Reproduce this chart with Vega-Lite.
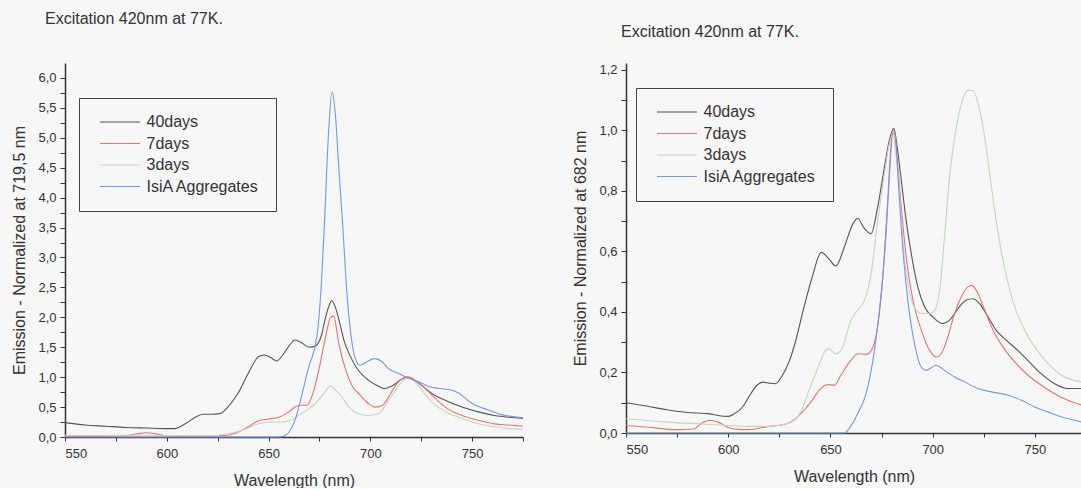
{
  "$schema": "https://vega.github.io/schema/vega-lite/v6.json",
  "background": "#f7f7f7",
  "padding": {"left": 11, "top": 11, "right": 0, "bottom": 0},
  "spacing": 46,
  "config": {
    "font": "Liberation Sans",
    "view": {"stroke": null},
    "axis": {"domainColor": "#333", "domainWidth": 1.5, "tickColor": "#333", "tickSize": 5, "labelColor": "#333", "labelFontSize": 13, "labelPadding": 4, "titleColor": "#333", "titleFontSize": 16, "titleFontWeight": "normal", "grid": false},
    "title": {"fontSize": 16, "fontWeight": "normal", "color": "#333", "anchor": "start", "frame": "group"},
    "legend": {"title": null, "orient": "none", "fillColor": "#f7f7f7", "strokeColor": "#444", "labelFontSize": 16, "labelColor": "#333", "symbolType": "M-6.667,0H6.667", "symbolSize": 36, "symbolStrokeWidth": 1.2, "symbolOffset": 17, "padding": 16, "rowPadding": 5.5, "labelOffset": 18.5}
  },
  "resolve": {"scale": {"color": "independent"}, "legend": {"color": "independent"}},
  "datasets": {
    "left": [
      {"s":"40days","nm":550,"v":0.24},{"s":"40days","nm":560,"v":0.2},{"s":"40days","nm":570,"v":0.18},{"s":"40days","nm":580,"v":0.16},{"s":"40days","nm":590,"v":0.15},{"s":"40days","nm":600,"v":0.14},{"s":"40days","nm":604,"v":0.14},{"s":"40days","nm":607,"v":0.18},{"s":"40days","nm":610,"v":0.24},{"s":"40days","nm":614,"v":0.33},{"s":"40days","nm":618,"v":0.38},{"s":"40days","nm":622,"v":0.38},{"s":"40days","nm":626,"v":0.39},{"s":"40days","nm":630,"v":0.5},{"s":"40days","nm":635,"v":0.73},{"s":"40days","nm":640,"v":1.06},{"s":"40days","nm":645,"v":1.34},{"s":"40days","nm":648,"v":1.37},{"s":"40days","nm":651,"v":1.33},{"s":"40days","nm":654,"v":1.27},{"s":"40days","nm":657,"v":1.37},{"s":"40days","nm":660,"v":1.52},{"s":"40days","nm":663,"v":1.62},{"s":"40days","nm":666,"v":1.58},{"s":"40days","nm":670,"v":1.5},{"s":"40days","nm":673,"v":1.52},{"s":"40days","nm":676,"v":1.7},{"s":"40days","nm":678,"v":2.0},{"s":"40days","nm":680,"v":2.22},{"s":"40days","nm":681,"v":2.28},{"s":"40days","nm":683,"v":2.15},{"s":"40days","nm":685,"v":1.9},{"s":"40days","nm":687,"v":1.62},{"s":"40days","nm":690,"v":1.36},{"s":"40days","nm":694,"v":1.12},{"s":"40days","nm":699,"v":0.95},{"s":"40days","nm":704,"v":0.85},{"s":"40days","nm":707,"v":0.81},{"s":"40days","nm":711,"v":0.86},{"s":"40days","nm":715,"v":0.96},{"s":"40days","nm":718,"v":1.0},{"s":"40days","nm":721,"v":0.96},{"s":"40days","nm":725,"v":0.87},{"s":"40days","nm":730,"v":0.73},{"s":"40days","nm":737,"v":0.61},{"s":"40days","nm":745,"v":0.5},{"s":"40days","nm":753,"v":0.42},{"s":"40days","nm":761,"v":0.36},{"s":"40days","nm":768,"v":0.33},{"s":"40days","nm":775,"v":0.31},
      {"s":"7days","nm":550,"v":0.01},{"s":"7days","nm":570,"v":0.01},{"s":"7days","nm":580,"v":0.02},{"s":"7days","nm":585,"v":0.05},{"s":"7days","nm":590,"v":0.07},{"s":"7days","nm":595,"v":0.05},{"s":"7days","nm":600,"v":0.02},{"s":"7days","nm":610,"v":0.01},{"s":"7days","nm":620,"v":0.01},{"s":"7days","nm":625,"v":0.02},{"s":"7days","nm":630,"v":0.03},{"s":"7days","nm":635,"v":0.08},{"s":"7days","nm":640,"v":0.17},{"s":"7days","nm":645,"v":0.27},{"s":"7days","nm":650,"v":0.3},{"s":"7days","nm":655,"v":0.33},{"s":"7days","nm":660,"v":0.42},{"s":"7days","nm":663,"v":0.5},{"s":"7days","nm":666,"v":0.53},{"s":"7days","nm":669,"v":0.53},{"s":"7days","nm":672,"v":0.75},{"s":"7days","nm":675,"v":1.17},{"s":"7days","nm":678,"v":1.67},{"s":"7days","nm":680.5,"v":2.0},{"s":"7days","nm":682,"v":2.02},{"s":"7days","nm":684.5,"v":1.56},{"s":"7days","nm":688,"v":1.11},{"s":"7days","nm":691,"v":0.86},{"s":"7days","nm":695,"v":0.7},{"s":"7days","nm":699,"v":0.56},{"s":"7days","nm":702.5,"v":0.5},{"s":"7days","nm":706,"v":0.53},{"s":"7days","nm":709,"v":0.67},{"s":"7days","nm":712,"v":0.84},{"s":"7days","nm":716,"v":0.98},{"s":"7days","nm":719,"v":1.0},{"s":"7days","nm":722,"v":0.95},{"s":"7days","nm":727,"v":0.81},{"s":"7days","nm":732,"v":0.64},{"s":"7days","nm":738,"v":0.47},{"s":"7days","nm":745,"v":0.36},{"s":"7days","nm":753,"v":0.28},{"s":"7days","nm":761,"v":0.22},{"s":"7days","nm":768,"v":0.2},{"s":"7days","nm":775,"v":0.18},
      {"s":"3days","nm":550,"v":0.03},{"s":"3days","nm":570,"v":0.03},{"s":"3days","nm":590,"v":0.03},{"s":"3days","nm":610,"v":0.02},{"s":"3days","nm":620,"v":0.02},{"s":"3days","nm":630,"v":0.05},{"s":"3days","nm":635,"v":0.09},{"s":"3days","nm":640,"v":0.15},{"s":"3days","nm":645,"v":0.22},{"s":"3days","nm":650,"v":0.25},{"s":"3days","nm":655,"v":0.25},{"s":"3days","nm":660,"v":0.27},{"s":"3days","nm":666,"v":0.39},{"s":"3days","nm":673,"v":0.56},{"s":"3days","nm":677,"v":0.72},{"s":"3days","nm":680.5,"v":0.85},{"s":"3days","nm":683,"v":0.78},{"s":"3days","nm":686,"v":0.67},{"s":"3days","nm":689.5,"v":0.5},{"s":"3days","nm":694,"v":0.39},{"s":"3days","nm":699,"v":0.36},{"s":"3days","nm":704,"v":0.39},{"s":"3days","nm":709,"v":0.61},{"s":"3days","nm":714,"v":0.86},{"s":"3days","nm":718,"v":0.98},{"s":"3days","nm":721,"v":0.95},{"s":"3days","nm":725.5,"v":0.78},{"s":"3days","nm":730,"v":0.59},{"s":"3days","nm":737,"v":0.42},{"s":"3days","nm":745,"v":0.31},{"s":"3days","nm":753,"v":0.22},{"s":"3days","nm":761,"v":0.17},{"s":"3days","nm":768,"v":0.14},{"s":"3days","nm":775,"v":0.13},
      {"s":"IsiA Aggregates","nm":550,"v":0.0},{"s":"IsiA Aggregates","nm":600,"v":0.0},{"s":"IsiA Aggregates","nm":640,"v":0.0},{"s":"IsiA Aggregates","nm":655,"v":0.0},{"s":"IsiA Aggregates","nm":658,"v":0.02},{"s":"IsiA Aggregates","nm":660,"v":0.08},{"s":"IsiA Aggregates","nm":663,"v":0.28},{"s":"IsiA Aggregates","nm":666.5,"v":0.72},{"s":"IsiA Aggregates","nm":670,"v":1.2},{"s":"IsiA Aggregates","nm":672,"v":1.4},{"s":"IsiA Aggregates","nm":674.5,"v":1.9},{"s":"IsiA Aggregates","nm":676,"v":2.6},{"s":"IsiA Aggregates","nm":677.5,"v":3.6},{"s":"IsiA Aggregates","nm":679.5,"v":5.1},{"s":"IsiA Aggregates","nm":681.2,"v":5.77},{"s":"IsiA Aggregates","nm":682.8,"v":5.4},{"s":"IsiA Aggregates","nm":684.5,"v":4.5},{"s":"IsiA Aggregates","nm":686.5,"v":3.5},{"s":"IsiA Aggregates","nm":688.5,"v":2.4},{"s":"IsiA Aggregates","nm":690.5,"v":1.7},{"s":"IsiA Aggregates","nm":692.5,"v":1.32},{"s":"IsiA Aggregates","nm":695,"v":1.2},{"s":"IsiA Aggregates","nm":698,"v":1.25},{"s":"IsiA Aggregates","nm":702,"v":1.31},{"s":"IsiA Aggregates","nm":705,"v":1.28},{"s":"IsiA Aggregates","nm":709,"v":1.14},{"s":"IsiA Aggregates","nm":714,"v":1.06},{"s":"IsiA Aggregates","nm":719,"v":0.98},{"s":"IsiA Aggregates","nm":724,"v":0.92},{"s":"IsiA Aggregates","nm":729,"v":0.84},{"s":"IsiA Aggregates","nm":734,"v":0.81},{"s":"IsiA Aggregates","nm":740,"v":0.78},{"s":"IsiA Aggregates","nm":743,"v":0.74},{"s":"IsiA Aggregates","nm":750,"v":0.56},{"s":"IsiA Aggregates","nm":758,"v":0.45},{"s":"IsiA Aggregates","nm":765,"v":0.37},{"s":"IsiA Aggregates","nm":770,"v":0.34},{"s":"IsiA Aggregates","nm":775,"v":0.32}
    ],
    "right": [
      {"s":"40days","nm":550,"v":0.1},{"s":"40days","nm":560,"v":0.089},{"s":"40days","nm":570,"v":0.077},{"s":"40days","nm":580,"v":0.068},{"s":"40days","nm":590,"v":0.064},{"s":"40days","nm":595,"v":0.058},{"s":"40days","nm":600,"v":0.055},{"s":"40days","nm":603,"v":0.064},{"s":"40days","nm":607,"v":0.086},{"s":"40days","nm":610,"v":0.119},{"s":"40days","nm":614,"v":0.157},{"s":"40days","nm":617,"v":0.168},{"s":"40days","nm":620,"v":0.165},{"s":"40days","nm":623,"v":0.163},{"s":"40days","nm":626,"v":0.185},{"s":"40days","nm":630,"v":0.24},{"s":"40days","nm":633,"v":0.305},{"s":"40days","nm":637,"v":0.415},{"s":"40days","nm":641,"v":0.514},{"s":"40days","nm":645.5,"v":0.597},{"s":"40days","nm":649,"v":0.577},{"s":"40days","nm":652.6,"v":0.552},{"s":"40days","nm":656.8,"v":0.615},{"s":"40days","nm":661,"v":0.692},{"s":"40days","nm":663.3,"v":0.709},{"s":"40days","nm":666.6,"v":0.676},{"s":"40days","nm":669.9,"v":0.659},{"s":"40days","nm":673.1,"v":0.748},{"s":"40days","nm":676.4,"v":0.88},{"s":"40days","nm":678.8,"v":0.968},{"s":"40days","nm":681,"v":1.007},{"s":"40days","nm":682.6,"v":0.946},{"s":"40days","nm":684.6,"v":0.836},{"s":"40days","nm":687,"v":0.703},{"s":"40days","nm":689.5,"v":0.593},{"s":"40days","nm":692.7,"v":0.483},{"s":"40days","nm":696,"v":0.417},{"s":"40days","nm":700,"v":0.384},{"s":"40days","nm":704.9,"v":0.362},{"s":"40days","nm":708.2,"v":0.373},{"s":"40days","nm":712.3,"v":0.411},{"s":"40days","nm":716.3,"v":0.439},{"s":"40days","nm":719.6,"v":0.444},{"s":"40days","nm":722.9,"v":0.428},{"s":"40days","nm":727,"v":0.384},{"s":"40days","nm":731,"v":0.34},{"s":"40days","nm":735.9,"v":0.307},{"s":"40days","nm":741.6,"v":0.273},{"s":"40days","nm":746.5,"v":0.24},{"s":"40days","nm":753,"v":0.196},{"s":"40days","nm":759.6,"v":0.163},{"s":"40days","nm":766.1,"v":0.147},{"s":"40days","nm":773,"v":0.147},
      {"s":"7days","nm":550,"v":0.025},{"s":"7days","nm":560,"v":0.02},{"s":"7days","nm":575,"v":0.011},{"s":"7days","nm":583,"v":0.013},{"s":"7days","nm":587,"v":0.033},{"s":"7days","nm":591,"v":0.042},{"s":"7days","nm":595,"v":0.036},{"s":"7days","nm":600,"v":0.018},{"s":"7days","nm":605,"v":0.012},{"s":"7days","nm":610,"v":0.011},{"s":"7days","nm":620,"v":0.022},{"s":"7days","nm":628,"v":0.029},{"s":"7days","nm":632,"v":0.042},{"s":"7days","nm":637,"v":0.075},{"s":"7days","nm":641,"v":0.108},{"s":"7days","nm":645,"v":0.146},{"s":"7days","nm":649,"v":0.16},{"s":"7days","nm":652,"v":0.158},{"s":"7days","nm":655,"v":0.19},{"s":"7days","nm":660,"v":0.24},{"s":"7days","nm":663.3,"v":0.262},{"s":"7days","nm":667.4,"v":0.26},{"s":"7days","nm":670,"v":0.273},{"s":"7days","nm":673,"v":0.35},{"s":"7days","nm":675.6,"v":0.516},{"s":"7days","nm":678,"v":0.77},{"s":"7days","nm":680,"v":0.98},{"s":"7days","nm":681,"v":1.0},{"s":"7days","nm":682.6,"v":0.902},{"s":"7days","nm":684.6,"v":0.748},{"s":"7days","nm":687,"v":0.582},{"s":"7days","nm":690.3,"v":0.439},{"s":"7days","nm":694.4,"v":0.34},{"s":"7days","nm":698.5,"v":0.273},{"s":"7days","nm":701.7,"v":0.251},{"s":"7days","nm":704.2,"v":0.262},{"s":"7days","nm":707.4,"v":0.318},{"s":"7days","nm":710.7,"v":0.395},{"s":"7days","nm":714,"v":0.45},{"s":"7days","nm":717.2,"v":0.483},{"s":"7days","nm":719.2,"v":0.488},{"s":"7days","nm":722.1,"v":0.461},{"s":"7days","nm":725.4,"v":0.406},{"s":"7days","nm":729.5,"v":0.34},{"s":"7days","nm":734.4,"v":0.284},{"s":"7days","nm":740.1,"v":0.235},{"s":"7days","nm":746.6,"v":0.191},{"s":"7days","nm":753.1,"v":0.158},{"s":"7days","nm":759.6,"v":0.13},{"s":"7days","nm":766.1,"v":0.108},{"s":"7days","nm":773,"v":0.092},
      {"s":"3days","nm":550,"v":0.047},{"s":"3days","nm":570,"v":0.036},{"s":"3days","nm":590,"v":0.029},{"s":"3days","nm":600,"v":0.025},{"s":"3days","nm":610,"v":0.022},{"s":"3days","nm":620,"v":0.022},{"s":"3days","nm":630,"v":0.033},{"s":"3days","nm":635,"v":0.064},{"s":"3days","nm":640,"v":0.15},{"s":"3days","nm":644,"v":0.218},{"s":"3days","nm":647,"v":0.267},{"s":"3days","nm":649,"v":0.279},{"s":"3days","nm":652.7,"v":0.262},{"s":"3days","nm":656,"v":0.284},{"s":"3days","nm":660,"v":0.373},{"s":"3days","nm":663.3,"v":0.406},{"s":"3days","nm":666.6,"v":0.439},{"s":"3days","nm":669.9,"v":0.527},{"s":"3days","nm":673.1,"v":0.703},{"s":"3days","nm":676.4,"v":0.858},{"s":"3days","nm":678.8,"v":0.957},{"s":"3days","nm":680.5,"v":0.99},{"s":"3days","nm":682.1,"v":0.913},{"s":"3days","nm":684.3,"v":0.748},{"s":"3days","nm":686.2,"v":0.571},{"s":"3days","nm":688.7,"v":0.461},{"s":"3days","nm":692,"v":0.406},{"s":"3days","nm":694.4,"v":0.395},{"s":"3days","nm":698.5,"v":0.395},{"s":"3days","nm":701,"v":0.406},{"s":"3days","nm":703.4,"v":0.472},{"s":"3days","nm":705.9,"v":0.659},{"s":"3days","nm":708.4,"v":0.858},{"s":"3days","nm":710.8,"v":0.979},{"s":"3days","nm":714,"v":1.089},{"s":"3days","nm":717.3,"v":1.133},{"s":"3days","nm":719.8,"v":1.131},{"s":"3days","nm":722.2,"v":1.089},{"s":"3days","nm":725.4,"v":0.979},{"s":"3days","nm":728.7,"v":0.814},{"s":"3days","nm":732,"v":0.659},{"s":"3days","nm":736.1,"v":0.516},{"s":"3days","nm":740.1,"v":0.417},{"s":"3days","nm":745,"v":0.34},{"s":"3days","nm":749.9,"v":0.284},{"s":"3days","nm":756.5,"v":0.229},{"s":"3days","nm":763,"v":0.191},{"s":"3days","nm":769.5,"v":0.174},{"s":"3days","nm":773,"v":0.169},
      {"s":"IsiA Aggregates","nm":550,"v":0.0},{"s":"IsiA Aggregates","nm":600,"v":0.0},{"s":"IsiA Aggregates","nm":650,"v":0.0},{"s":"IsiA Aggregates","nm":657,"v":0.0},{"s":"IsiA Aggregates","nm":659,"v":0.014},{"s":"IsiA Aggregates","nm":663.3,"v":0.064},{"s":"IsiA Aggregates","nm":667.4,"v":0.13},{"s":"IsiA Aggregates","nm":671.5,"v":0.273},{"s":"IsiA Aggregates","nm":674.8,"v":0.461},{"s":"IsiA Aggregates","nm":677.2,"v":0.659},{"s":"IsiA Aggregates","nm":678.8,"v":0.847},{"s":"IsiA Aggregates","nm":680.5,"v":0.99},{"s":"IsiA Aggregates","nm":681.6,"v":0.99},{"s":"IsiA Aggregates","nm":683.2,"v":0.825},{"s":"IsiA Aggregates","nm":685.3,"v":0.615},{"s":"IsiA Aggregates","nm":687.8,"v":0.439},{"s":"IsiA Aggregates","nm":691.1,"v":0.295},{"s":"IsiA Aggregates","nm":694.4,"v":0.218},{"s":"IsiA Aggregates","nm":696.8,"v":0.207},{"s":"IsiA Aggregates","nm":701.7,"v":0.224},{"s":"IsiA Aggregates","nm":705.8,"v":0.207},{"s":"IsiA Aggregates","nm":710.7,"v":0.185},{"s":"IsiA Aggregates","nm":715.6,"v":0.169},{"s":"IsiA Aggregates","nm":722.1,"v":0.147},{"s":"IsiA Aggregates","nm":728.7,"v":0.136},{"s":"IsiA Aggregates","nm":736.9,"v":0.125},{"s":"IsiA Aggregates","nm":743.4,"v":0.108},{"s":"IsiA Aggregates","nm":749.9,"v":0.086},{"s":"IsiA Aggregates","nm":756.5,"v":0.069},{"s":"IsiA Aggregates","nm":763,"v":0.053},{"s":"IsiA Aggregates","nm":769.5,"v":0.042},{"s":"IsiA Aggregates","nm":773,"v":0.036}
    ]
  },
  "hconcat": [
    {
      "width": 458,
      "height": 374,
      "title": {"text": "Excitation 420nm at 77K.", "dx": -20, "offset": 36},
      "data": {"name": "left"},
      "mark": {"type": "line", "strokeWidth": 1.1, "interpolate": "monotone"},
      "encoding": {
        "x": {"field": "nm", "type": "quantitative", "scale": {"domain": [550, 775], "nice": false, "zero": false},
              "axis": {"title": "Wavelength (nm)", "values": [550, 575, 600, 625, 650, 675, 700, 725, 750, 775], "labelExpr": "datum.value % 50 == 0 ? datum.value : ''", "tickSize": 4, "labelPadding": 6, "titlePadding": 12}},
        "y": {"field": "v", "type": "quantitative", "scale": {"domain": [0, 6.25], "nice": false},
              "axis": {"title": "Emission - Normalized at 719,5 nm", "values": [0, 0.25, 0.5, 0.75, 1, 1.25, 1.5, 1.75, 2, 2.25, 2.5, 2.75, 3, 3.25, 3.5, 3.75, 4, 4.25, 4.5, 4.75, 5, 5.25, 5.5, 5.75, 6], "labelExpr": "round(datum.value*100) % 50 == 0 ? replace(format(datum.value, '.1f'), '.', ',') : ''", "titlePadding": 10}},
        "color": {"field": "s", "type": "nominal",
                  "scale": {"domain": ["40days", "7days", "3days", "IsiA Aggregates"], "range": ["#555555", "#e87474", "#c8d2c6", "#7b98d6"]},
                  "legend": {"legendX": 14, "legendY": 35}}
      }
    },
    {
      "width": 456,
      "height": 370,
      "title": {"text": "Excitation 420nm at 77K.", "dx": -5, "offset": 23},
      "data": {"name": "right"},
      "mark": {"type": "line", "strokeWidth": 1.1, "interpolate": "monotone"},
      "encoding": {
        "x": {"field": "nm", "type": "quantitative", "scale": {"domain": [550, 773], "nice": false, "zero": false},
              "axis": {"title": "Wavelength (nm)", "values": [550, 575, 600, 625, 650, 675, 700, 725, 750], "labelExpr": "datum.value % 50 == 0 ? datum.value : ''", "tickSize": 4, "labelPadding": 6, "titlePadding": 12}},
        "y": {"field": "v", "type": "quantitative", "scale": {"domain": [0, 1.223], "nice": false},
              "axis": {"title": "Emission - Normalized at 682 nm", "values": [0, 0.1, 0.2, 0.3, 0.4, 0.5, 0.6, 0.7, 0.8, 0.9, 1.0, 1.1, 1.2], "labelExpr": "round(datum.value*10) % 2 == 0 ? replace(format(datum.value, '.1f'), '.', ',') : ''", "titlePadding": 10}},
        "color": {"field": "s", "type": "nominal",
                  "scale": {"domain": ["40days", "7days", "3days", "IsiA Aggregates"], "range": ["#555555", "#e87474", "#c8d2c6", "#7b98d6"]},
                  "legend": {"legendX": 10, "legendY": 25}}
      }
    }
  ]
}
